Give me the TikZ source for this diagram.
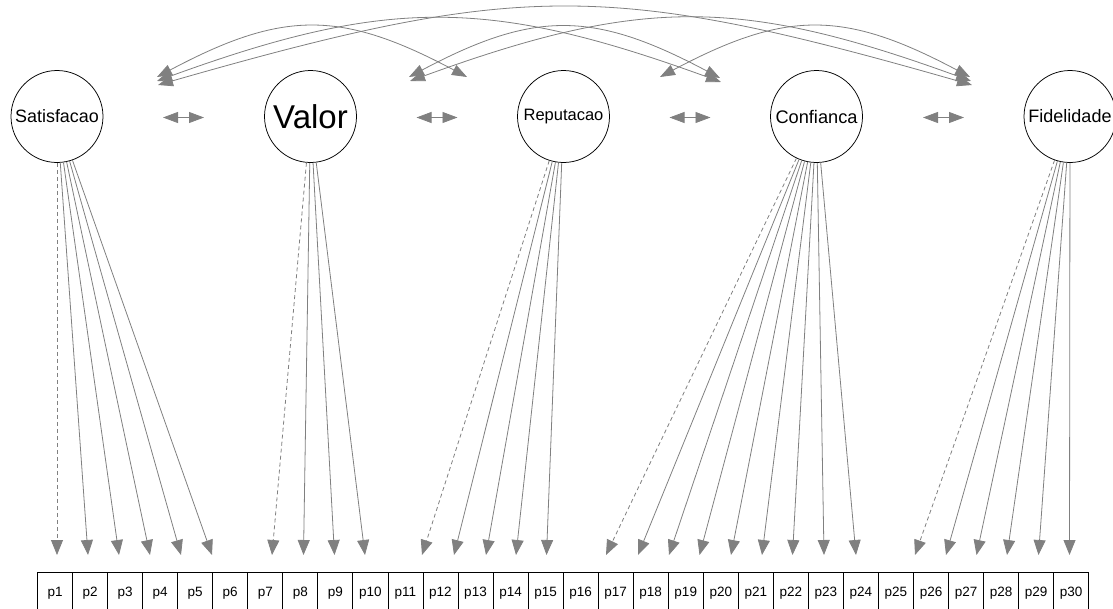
\documentclass[tikz,border=0pt]{standalone}
\usepackage{fontspec}
\setmainfont{Liberation Sans}
\usetikzlibrary{arrows.meta}
\definecolor{edgegray}{RGB}{128,128,128}
\begin{document}
\begin{tikzpicture}[x=1pt,y=-1pt,
  latent/.style={circle,draw=black,line width=0.75pt,minimum size=92pt,inner sep=0pt},
  manifest/.style={rectangle,draw=black,line width=0.75pt,minimum width=35.04pt,
    minimum height=43pt,inner sep=0pt,font=\fontsize{13.5}{15}\selectfont},
  load/.style={draw=edgegray,line width=0.8pt,-{Triangle[length=15pt,width=12pt]}},
  fixedload/.style={load,dash pattern=on 4pt off 3pt},
  cov/.style={draw=edgegray,line width=0.8pt,
    {Triangle[length=15pt,width=11pt]}-{Triangle[length=15pt,width=11pt]}},
  covcurve/.style={draw=edgegray,line width=0.8pt,
    {Triangle[length=15pt,width=11pt]}-{Triangle[length=15pt,width=11pt]}}
]
\useasboundingbox (0,0) rectangle (1113,608);
\clip (0,0) rectangle (1113,608);

% latent variables
\node[latent,font=\fontsize{17.9}{20}\selectfont] (sat)  at (57,116.5)   {Satisfacao};
\node[latent,font=\fontsize{33}{36}\selectfont]   (val)  at (310.5,116.5) {Valor};
\node[latent,font=\fontsize{16.5}{18}\selectfont] (rep)  at (563.5,116.5) {Reputacao};
\node[latent,font=\fontsize{18.2}{20}\selectfont] (conf) at (816.5,116.5) {Confianca};
\node[latent,font=\fontsize{18}{20}\selectfont]   (fid)  at (1070,116.5)  {Fidelidade};

% observed indicators
\foreach \i in {1,...,30}
  \node[manifest] (p\i) at ({37.5+35.04*(\i-0.5)},593.5) {p\i};

% arrow ends of the loadings
\foreach \i/\x in {1/57,2/88,3/119,4/150,5/181,6/212,
                   7/272,8/303.5,9/334.5,10/365,
                   11/422,12/454,13/486,14/516,15/546.5,
                   16/606,17/638,18/669,19/699.5,20/731,21/762,22/792.5,23/824,24/856,
                   25/915,26/946,27/976.5,28/1007,29/1038.5,30/1069.5}
  \coordinate (t\i) at (\x,555);

% loadings (first indicator of each factor fixed)
\draw[fixedload] (sat) -- (t1);
\foreach \i in {2,...,6} \draw[load] (sat) -- (t\i);
\draw[fixedload] (val) -- (t7);
\foreach \i in {8,...,10} \draw[load] (val) -- (t\i);
\draw[fixedload] (rep) -- (t11);
\foreach \i in {12,...,15} \draw[load] (rep) -- (t\i);
\draw[fixedload] (conf) -- (t16);
\foreach \i in {17,...,24} \draw[load] (conf) -- (t\i);
\draw[fixedload] (fid) -- (t25);
\foreach \i in {26,...,30} \draw[load] (fid) -- (t\i);

% covariances between neighbouring factors
\coordinate (c1l) at (163,117.5);   \coordinate (c1r) at (204,117.5);
\coordinate (c2l) at (416.5,117.5); \coordinate (c2r) at (457.5,117.5);
\coordinate (c3l) at (669.5,117.5); \coordinate (c3r) at (710.5,117.5);
\coordinate (c4l) at (923,117.5);   \coordinate (c4r) at (964,117.5);
\draw[cov] (c1l) -- (c1r);
\draw[cov] (c2l) -- (c2r);
\draw[cov] (c3l) -- (c3r);
\draw[cov] (c4l) -- (c4r);

% ends of the curved covariances
\coordinate (satR1)  at (157,77);
\coordinate (satR2)  at (157,81);
\coordinate (satR3)  at (158,85);
\coordinate (valR1)  at (409,77);
\coordinate (valR2)  at (410,81);
\coordinate (repL)   at (467,77);
\coordinate (repR)   at (660,77);
\coordinate (confL1) at (720,78);
\coordinate (confL2) at (721,82);
\coordinate (fidL1)  at (970,77);
\coordinate (fidL2)  at (971,81);
\coordinate (fidL3)  at (972,85);

% curved covariances between distant factors
\draw[covcurve] (satR1) .. controls +(126,-67) and +(-126,-67) .. (repL);
\draw[covcurve] (valR1) .. controls +(126,-67) and +(-126,-67) .. (confL1);
\draw[covcurve] (repR)  .. controls +(126,-67) and +(-126,-67) .. (fidL1);
\draw[covcurve] (satR2) .. controls +(231,-84) and +(-231,-84) .. (confL2);
\draw[covcurve] (valR2) .. controls +(231,-84) and +(-231,-84) .. (fidL2);
\draw[covcurve] (satR3) .. controls +(363,-104) and +(-363,-104) .. (fidL3);
\end{tikzpicture}
\end{document}
